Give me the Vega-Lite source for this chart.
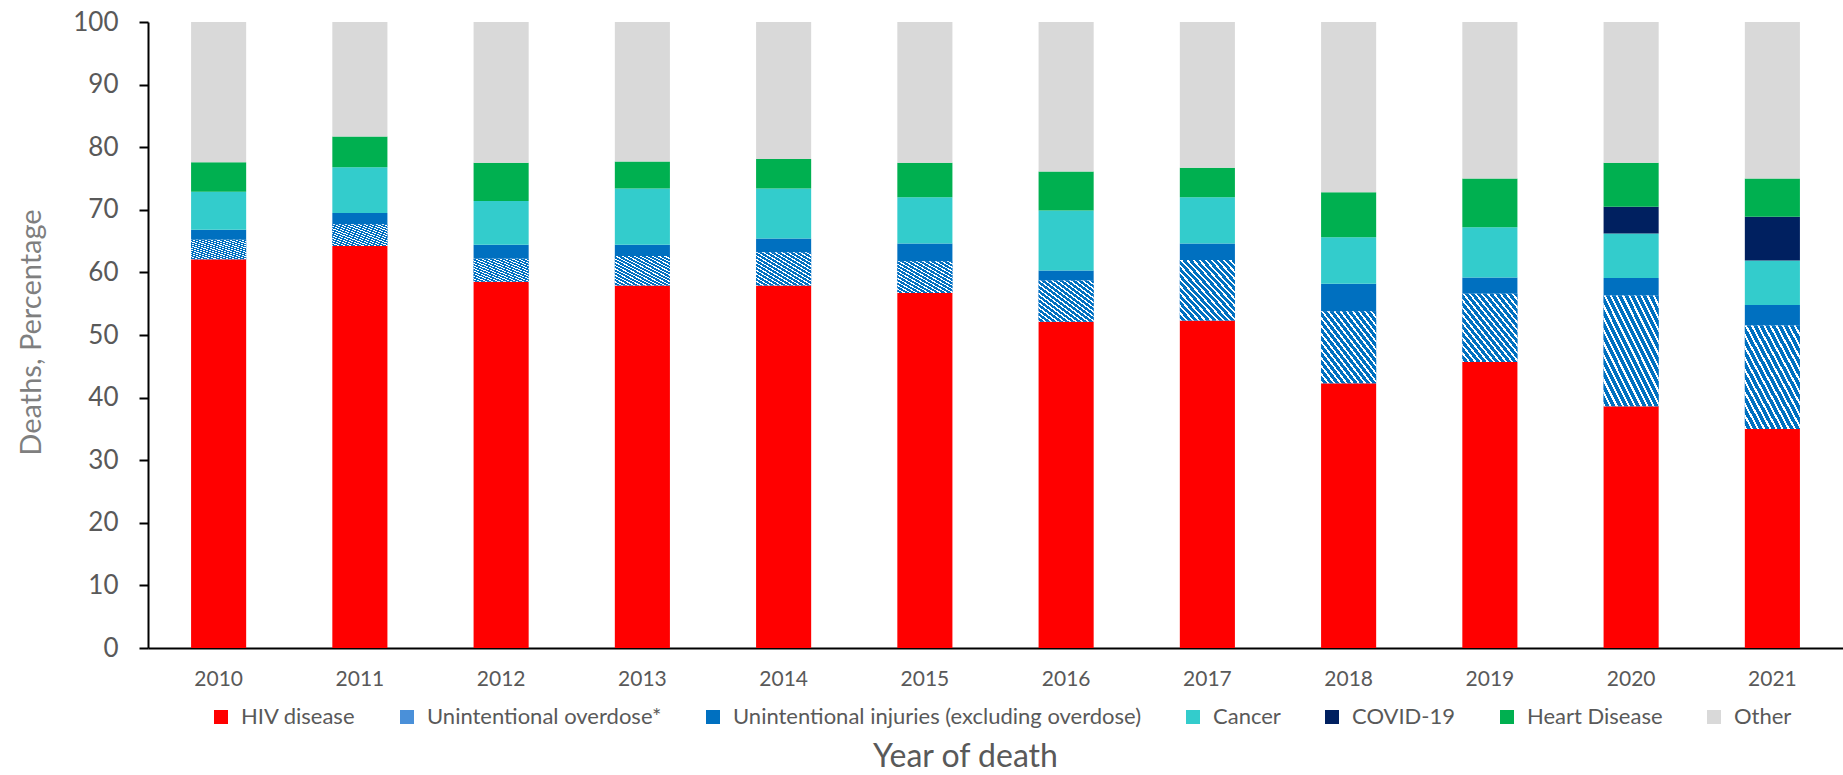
{
  "$schema": "https://vega.github.io/schema/vega-lite/v6.json",
  "width": 1695,
  "height": 626,
  "autosize": {"type": "none"},
  "padding": {"left": 148, "top": 22, "right": 0, "bottom": 127},
  "background": "white",
  "config": {"view": {"stroke": null}, "font": "Lato"},
  "data": {
    "values": [
      {"year": 2010, "cause": "HIV disease", "order": 1, "pct": 62.1},
      {"year": 2010, "cause": "Unintentional overdose*", "order": 2, "pct": 3.1},
      {"year": 2010, "cause": "Unintentional injuries (excluding overdose)", "order": 3, "pct": 1.6},
      {"year": 2010, "cause": "Cancer", "order": 4, "pct": 6.1},
      {"year": 2010, "cause": "Heart Disease", "order": 6, "pct": 4.7},
      {"year": 2010, "cause": "Other", "order": 7, "pct": 22.4},
      {"year": 2011, "cause": "HIV disease", "order": 1, "pct": 64.2},
      {"year": 2011, "cause": "Unintentional overdose*", "order": 2, "pct": 3.5},
      {"year": 2011, "cause": "Unintentional injuries (excluding overdose)", "order": 3, "pct": 1.8},
      {"year": 2011, "cause": "Cancer", "order": 4, "pct": 7.3},
      {"year": 2011, "cause": "Heart Disease", "order": 6, "pct": 4.9},
      {"year": 2011, "cause": "Other", "order": 7, "pct": 18.3},
      {"year": 2012, "cause": "HIV disease", "order": 1, "pct": 58.5},
      {"year": 2012, "cause": "Unintentional overdose*", "order": 2, "pct": 3.7},
      {"year": 2012, "cause": "Unintentional injuries (excluding overdose)", "order": 3, "pct": 2.2},
      {"year": 2012, "cause": "Cancer", "order": 4, "pct": 7.0},
      {"year": 2012, "cause": "Heart Disease", "order": 6, "pct": 6.1},
      {"year": 2012, "cause": "Other", "order": 7, "pct": 22.5},
      {"year": 2013, "cause": "HIV disease", "order": 1, "pct": 57.9},
      {"year": 2013, "cause": "Unintentional overdose*", "order": 2, "pct": 4.7},
      {"year": 2013, "cause": "Unintentional injuries (excluding overdose)", "order": 3, "pct": 1.8},
      {"year": 2013, "cause": "Cancer", "order": 4, "pct": 9.0},
      {"year": 2013, "cause": "Heart Disease", "order": 6, "pct": 4.3},
      {"year": 2013, "cause": "Other", "order": 7, "pct": 22.3},
      {"year": 2014, "cause": "HIV disease", "order": 1, "pct": 57.9},
      {"year": 2014, "cause": "Unintentional overdose*", "order": 2, "pct": 5.3},
      {"year": 2014, "cause": "Unintentional injuries (excluding overdose)", "order": 3, "pct": 2.2},
      {"year": 2014, "cause": "Cancer", "order": 4, "pct": 8.0},
      {"year": 2014, "cause": "Heart Disease", "order": 6, "pct": 4.7},
      {"year": 2014, "cause": "Other", "order": 7, "pct": 21.9},
      {"year": 2015, "cause": "HIV disease", "order": 1, "pct": 56.7},
      {"year": 2015, "cause": "Unintentional overdose*", "order": 2, "pct": 5.1},
      {"year": 2015, "cause": "Unintentional injuries (excluding overdose)", "order": 3, "pct": 2.8},
      {"year": 2015, "cause": "Cancer", "order": 4, "pct": 7.4},
      {"year": 2015, "cause": "Heart Disease", "order": 6, "pct": 5.5},
      {"year": 2015, "cause": "Other", "order": 7, "pct": 22.5},
      {"year": 2016, "cause": "HIV disease", "order": 1, "pct": 52.1},
      {"year": 2016, "cause": "Unintentional overdose*", "order": 2, "pct": 6.6},
      {"year": 2016, "cause": "Unintentional injuries (excluding overdose)", "order": 3, "pct": 1.6},
      {"year": 2016, "cause": "Cancer", "order": 4, "pct": 9.6},
      {"year": 2016, "cause": "Heart Disease", "order": 6, "pct": 6.2},
      {"year": 2016, "cause": "Other", "order": 7, "pct": 23.9},
      {"year": 2017, "cause": "HIV disease", "order": 1, "pct": 52.3},
      {"year": 2017, "cause": "Unintentional overdose*", "order": 2, "pct": 9.7},
      {"year": 2017, "cause": "Unintentional injuries (excluding overdose)", "order": 3, "pct": 2.6},
      {"year": 2017, "cause": "Cancer", "order": 4, "pct": 7.4},
      {"year": 2017, "cause": "Heart Disease", "order": 6, "pct": 4.7},
      {"year": 2017, "cause": "Other", "order": 7, "pct": 23.3},
      {"year": 2018, "cause": "HIV disease", "order": 1, "pct": 42.3},
      {"year": 2018, "cause": "Unintentional overdose*", "order": 2, "pct": 11.5},
      {"year": 2018, "cause": "Unintentional injuries (excluding overdose)", "order": 3, "pct": 4.4},
      {"year": 2018, "cause": "Cancer", "order": 4, "pct": 7.4},
      {"year": 2018, "cause": "Heart Disease", "order": 6, "pct": 7.2},
      {"year": 2018, "cause": "Other", "order": 7, "pct": 27.2},
      {"year": 2019, "cause": "HIV disease", "order": 1, "pct": 45.7},
      {"year": 2019, "cause": "Unintentional overdose*", "order": 2, "pct": 10.9},
      {"year": 2019, "cause": "Unintentional injuries (excluding overdose)", "order": 3, "pct": 2.6},
      {"year": 2019, "cause": "Cancer", "order": 4, "pct": 8.0},
      {"year": 2019, "cause": "Heart Disease", "order": 6, "pct": 7.8},
      {"year": 2019, "cause": "Other", "order": 7, "pct": 25.0},
      {"year": 2020, "cause": "HIV disease", "order": 1, "pct": 38.6},
      {"year": 2020, "cause": "Unintentional overdose*", "order": 2, "pct": 17.7},
      {"year": 2020, "cause": "Unintentional injuries (excluding overdose)", "order": 3, "pct": 2.8},
      {"year": 2020, "cause": "Cancer", "order": 4, "pct": 7.1},
      {"year": 2020, "cause": "COVID-19", "order": 5, "pct": 4.3},
      {"year": 2020, "cause": "Heart Disease", "order": 6, "pct": 7.0},
      {"year": 2020, "cause": "Other", "order": 7, "pct": 22.5},
      {"year": 2021, "cause": "HIV disease", "order": 1, "pct": 35.0},
      {"year": 2021, "cause": "Unintentional overdose*", "order": 2, "pct": 16.5},
      {"year": 2021, "cause": "Unintentional injuries (excluding overdose)", "order": 3, "pct": 3.3},
      {"year": 2021, "cause": "Cancer", "order": 4, "pct": 7.1},
      {"year": 2021, "cause": "COVID-19", "order": 5, "pct": 7.0},
      {"year": 2021, "cause": "Heart Disease", "order": 6, "pct": 6.1},
      {"year": 2021, "cause": "Other", "order": 7, "pct": 25.0}
    ]
  },
  "transform": [
    {"stack": "pct", "groupby": ["year"], "sort": [{"field": "order", "order": "ascending"}], "as": ["y0", "y1"]}
  ],
  "layer": [
    {
      "mark": {"type": "bar"},
      "encoding": {
        "x": {
          "field": "year",
          "type": "ordinal",
          "scale": {"paddingInner": 0.61, "paddingOuter": 0.305},
          "axis": {
            "title": "Year of death",
            "labelAngle": 0,
            "ticks": false,
            "tickSize": 0,
            "domainColor": "#000000",
            "domainWidth": 2,
            "labelFont": "Lato",
            "labelFontSize": 21,
            "labelColor": "#595959",
            "labelBaseline": "middle",
            "labelPadding": 31,
            "titleFont": "Lato",
            "titleFontSize": 32,
            "titleFontWeight": "normal",
            "titleColor": "#595959",
            "titleX": 817,
            "titleY": 108,
            "titleBaseline": "middle",
            "titleAlign": "center"
          }
        },
        "y": {
          "field": "y0",
          "type": "quantitative",
          "scale": {"domain": [0, 100], "nice": false},
          "axis": {
            "title": "Deaths, Percentage",
            "values": [0, 10, 20, 30, 40, 50, 60, 70, 80, 90, 100],
            "grid": false,
            "domainColor": "#000000",
            "domainWidth": 2,
            "tickColor": "#000000",
            "tickWidth": 2,
            "tickSize": 9,
            "labelFont": "Lato",
            "labelFontSize": 26,
            "labelColor": "#595959",
            "labelPadding": 21,
            "titleFont": "Lato",
            "titleFontSize": 29,
            "titleFontWeight": "normal",
            "titleColor": "#7f7f7f",
            "titleAngle": -90,
            "titleX": -117,
            "titleY": 310,
            "titleBaseline": "middle",
            "titleAlign": "center"
          }
        },
        "y2": {"field": "y1"},
        "color": {
          "field": "cause",
          "type": "nominal",
          "scale": {
            "domain": ["HIV disease", "Unintentional overdose*", "Unintentional injuries (excluding overdose)", "Cancer", "COVID-19", "Heart Disease", "Other"],
            "range": ["#FF0000", "#4A90D9", "#0070C0", "#33CCCC", "#002060", "#00B050", "#D9D9D9"]
          },
          "legend": {
            "orient": "none",
            "legendX": 62,
            "legendY": 684,
            "direction": "horizontal",
            "columns": 7,
            "title": null,
            "symbolType": "square",
            "symbolSize": 196,
            "symbolStrokeWidth": 0,
            "labelFont": "Lato",
            "labelFontSize": 22,
            "labelColor": "#595959",
            "labelOffset": 9,
            "labelLimit": 600,
            "columnPadding": 40,
            "padding": 0
          }
        }
      }
    },
    {
      "transform": [{"filter": "datum.cause === 'Unintentional overdose*'"}],
      "mark": {
        "type": "bar",
        "color": {
          "gradient": "linear",
          "x1": 1, "y1": 0, "x2": 0, "y2": 1,
          "stops": [
            {"offset": 0, "color": "#0070C0"}, {"offset": 0.0361, "color": "#0070C0"}, {"offset": 0.0361, "color": "#ffffff"}, {"offset": 0.0556, "color": "#ffffff"},
            {"offset": 0.0556, "color": "#0070C0"}, {"offset": 0.0917, "color": "#0070C0"}, {"offset": 0.0917, "color": "#ffffff"}, {"offset": 0.1111, "color": "#ffffff"},
            {"offset": 0.1111, "color": "#0070C0"}, {"offset": 0.1472, "color": "#0070C0"}, {"offset": 0.1472, "color": "#ffffff"}, {"offset": 0.1667, "color": "#ffffff"},
            {"offset": 0.1667, "color": "#0070C0"}, {"offset": 0.2028, "color": "#0070C0"}, {"offset": 0.2028, "color": "#ffffff"}, {"offset": 0.2222, "color": "#ffffff"},
            {"offset": 0.2222, "color": "#0070C0"}, {"offset": 0.2583, "color": "#0070C0"}, {"offset": 0.2583, "color": "#ffffff"}, {"offset": 0.2778, "color": "#ffffff"},
            {"offset": 0.2778, "color": "#0070C0"}, {"offset": 0.3139, "color": "#0070C0"}, {"offset": 0.3139, "color": "#ffffff"}, {"offset": 0.3333, "color": "#ffffff"},
            {"offset": 0.3333, "color": "#0070C0"}, {"offset": 0.3694, "color": "#0070C0"}, {"offset": 0.3694, "color": "#ffffff"}, {"offset": 0.3889, "color": "#ffffff"},
            {"offset": 0.3889, "color": "#0070C0"}, {"offset": 0.425, "color": "#0070C0"}, {"offset": 0.425, "color": "#ffffff"}, {"offset": 0.4444, "color": "#ffffff"},
            {"offset": 0.4444, "color": "#0070C0"}, {"offset": 0.4806, "color": "#0070C0"}, {"offset": 0.4806, "color": "#ffffff"}, {"offset": 0.5, "color": "#ffffff"},
            {"offset": 0.5, "color": "#0070C0"}, {"offset": 0.5361, "color": "#0070C0"}, {"offset": 0.5361, "color": "#ffffff"}, {"offset": 0.5556, "color": "#ffffff"},
            {"offset": 0.5556, "color": "#0070C0"}, {"offset": 0.5917, "color": "#0070C0"}, {"offset": 0.5917, "color": "#ffffff"}, {"offset": 0.6111, "color": "#ffffff"},
            {"offset": 0.6111, "color": "#0070C0"}, {"offset": 0.6472, "color": "#0070C0"}, {"offset": 0.6472, "color": "#ffffff"}, {"offset": 0.6667, "color": "#ffffff"},
            {"offset": 0.6667, "color": "#0070C0"}, {"offset": 0.7028, "color": "#0070C0"}, {"offset": 0.7028, "color": "#ffffff"}, {"offset": 0.7222, "color": "#ffffff"},
            {"offset": 0.7222, "color": "#0070C0"}, {"offset": 0.7583, "color": "#0070C0"}, {"offset": 0.7583, "color": "#ffffff"}, {"offset": 0.7778, "color": "#ffffff"},
            {"offset": 0.7778, "color": "#0070C0"}, {"offset": 0.8139, "color": "#0070C0"}, {"offset": 0.8139, "color": "#ffffff"}, {"offset": 0.8333, "color": "#ffffff"},
            {"offset": 0.8333, "color": "#0070C0"}, {"offset": 0.8694, "color": "#0070C0"}, {"offset": 0.8694, "color": "#ffffff"}, {"offset": 0.8889, "color": "#ffffff"},
            {"offset": 0.8889, "color": "#0070C0"}, {"offset": 0.925, "color": "#0070C0"}, {"offset": 0.925, "color": "#ffffff"}, {"offset": 0.9444, "color": "#ffffff"},
            {"offset": 0.9444, "color": "#0070C0"}, {"offset": 0.9806, "color": "#0070C0"}, {"offset": 0.9806, "color": "#ffffff"}, {"offset": 1, "color": "#ffffff"}
          ]
        }
      },
      "encoding": {
        "x": {"field": "year", "type": "ordinal"},
        "y": {"field": "y0", "type": "quantitative"},
        "y2": {"field": "y1"}
      }
    }
  ]
}
